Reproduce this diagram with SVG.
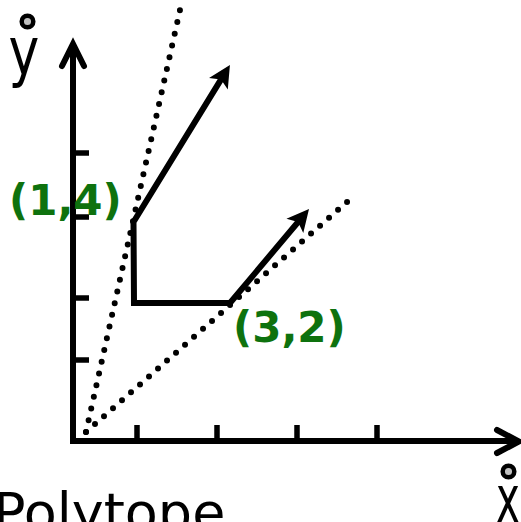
<svg xmlns="http://www.w3.org/2000/svg" width="521" height="522" viewBox="0 0 521 522">
  <style>
    .axis { fill: none; stroke: #000; stroke-width: 6; stroke-linecap: butt; }
    .head { fill: none; stroke: #000; stroke-width: 6; stroke-linecap: round; stroke-linejoin: miter; }
    .tick { stroke: #000; stroke-width: 5.5; }
    .dots { fill: none; stroke: #000; stroke-width: 6; stroke-dasharray: 0 12; stroke-linecap: round; }
    .poly { fill: none; stroke: #000; stroke-width: 6; stroke-linejoin: miter; }
    .pt { font-family: "DejaVu Sans", "Liberation Sans", sans-serif; font-weight: bold; font-size: 42px; fill: #0e720e; }
    .ax { font-family: "DejaVu Sans", "Liberation Sans", sans-serif; font-size: 65px; fill: #000; }
    .dot { fill: #c0c0c0; stroke: #000; stroke-width: 4.5; }
    .title { font-family: "DejaVu Sans", "Liberation Sans", sans-serif; font-size: 54px; fill: #000; }
  </style>
  <defs>
    <marker id="arr" markerUnits="userSpaceOnUse" viewBox="-6 -12 28 24" markerWidth="28" markerHeight="24" refX="4" refY="0" orient="auto-start-reverse">
      <path d="M18,0 L-4,-11 L1,0 L-4,11 Z" fill="#000"/>
    </marker>
  </defs>

  <g id="axes">
    <line class="axis" x1="73" y1="444" x2="73" y2="46"/>
    <polyline class="head" points="62,66 73,44 84,66"/>
    <line class="axis" x1="70" y1="441" x2="517" y2="441"/>
    <polyline class="head" points="497,430 519,441.5 497,453"/>
  </g>

  <g id="ticks">
    <line class="tick" x1="137" y1="425" x2="137" y2="441"/>
    <line class="tick" x1="217" y1="425" x2="217" y2="441"/>
    <line class="tick" x1="297" y1="425" x2="297" y2="441"/>
    <line class="tick" x1="377" y1="425" x2="377" y2="441"/>
    <line class="tick" x1="73" y1="153" x2="89" y2="153"/>
    <line class="tick" x1="73" y1="217" x2="89" y2="217"/>
    <line class="tick" x1="73" y1="298" x2="89" y2="298"/>
    <line class="tick" x1="73" y1="360" x2="89" y2="360"/>
  </g>

  <g id="connectors">
    <line class="dots" x1="86" y1="432" x2="180" y2="10"/>
    <line class="dots" x1="86" y1="432" x2="356" y2="194"/>
  </g>

  <g id="polytope">
    <path class="poly" d="M222.6,76.9 L133.5,222 L134,303 L230,303 L300,219.7" marker-start="url(#arr)" marker-end="url(#arr)"/>
  </g>

  <g id="label-14">
    <text class="pt" x="9" y="215">(1,4)</text>
  </g>
  <g id="label-32">
    <text class="pt" x="233" y="342">(3,2)</text>
  </g>

  <g id="y-label">
    <circle class="dot" cx="27.5" cy="21.5" r="5.8"/>
    <text class="ax" text-anchor="middle" transform="translate(24,74) scale(0.8,1)">y</text>
  </g>
  <g id="x-label">
    <circle class="dot" cx="508.5" cy="471.5" r="5.8"/>
    <text class="ax" text-anchor="middle" transform="translate(508,522) scale(0.62,1)">x</text>
  </g>

  <g id="title">
    <text class="title" x="-7" y="531">Polytope</text>
  </g>
</svg>
